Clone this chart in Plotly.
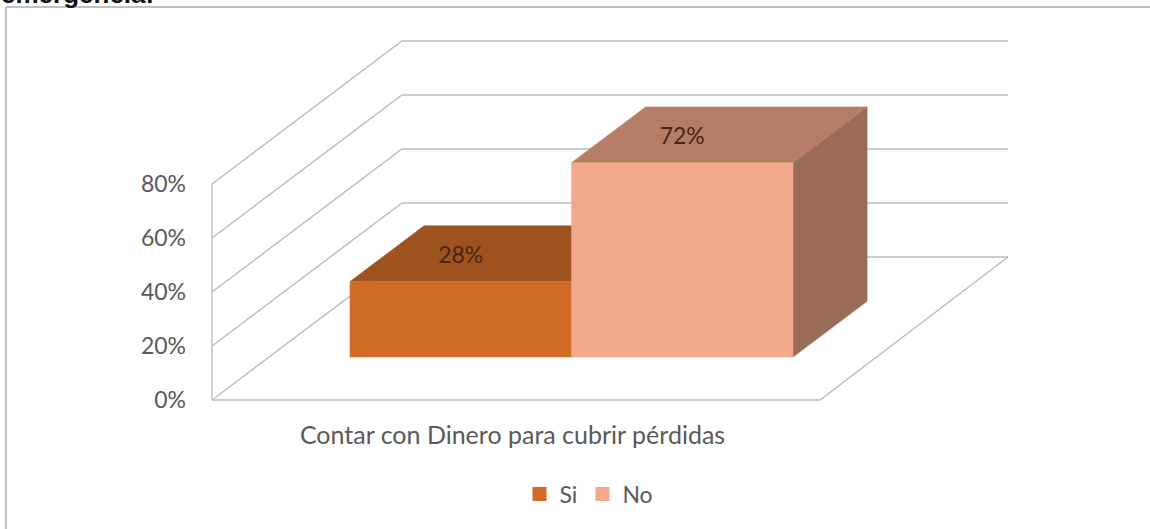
import plotly.graph_objects as go

# --- data ---
categories = ["Contar con Dinero para cubrir pérdidas"]
series_names = ["Si", "No"]
series_values = [28, 72]
data_labels = ["28%", "72%"]
tick_values = [0, 20, 40, 60, 80]
tick_labels = ["0%", "20%", "40%", "60%", "80%"]

front_colors = ["#D06C26", "#F1A88C"]
top_colors = ["#9E521D", "#B57D66"]
side_colors = ["#8C4A1A", "#9A6B56"]

# --- oblique projection geometry (figure is 1150 x 529) ---
W, H = 1150, 529
PX_PER_UNIT = 2.7          # vertical pixels per percentage point
Y0_PX = 400                # pixel row of value 0
FLOOR_LEFT, FLOOR_RIGHT = 212, 820
DEPTH_DX, DEPTH_DY = 190, 143 / PX_PER_UNIT   # full-depth offset
BAR_D0, BAR_D1 = 0.30, 0.69  # bar position along depth
BAR_X0 = 350 - BAR_D0 * DEPTH_DX
BAR_W = 221.5
LABEL_DROP = 3.5 / PX_PER_UNIT


def proj(x, v, d):
    return x + d * DEPTH_DX, v + d * DEPTH_DY


def poly(points, color, name):
    xs, ys = zip(*points)
    return go.Scatter(x=list(xs) + [xs[0]], y=list(ys) + [ys[0]], mode="lines",
                      fill="toself", fillcolor=color, line=dict(color=color, width=0.5),
                      hoverinfo="skip", showlegend=False, name=name)


fig = go.Figure()

# gridlines: left wall + back wall
gx, gy = [], []
for t in tick_values:
    a = proj(FLOOR_LEFT, t, 0)
    b = proj(FLOOR_LEFT, t, 1)
    c = proj(FLOOR_RIGHT - 2, t, 1)
    gx += [a[0], b[0], c[0], None]
    gy += [a[1], b[1], c[1], None]
# floor front + right edge and left vertical
p0 = proj(FLOOR_LEFT, 0, 0)
p1 = proj(FLOOR_RIGHT, 0, 0)
p2 = proj(FLOOR_RIGHT - 2, 0, 1)
gx += [p0[0], p1[0], p2[0], None, p0[0], p0[0]]
gy += [p0[1], p1[1], p2[1], None, p0[1], tick_values[-1]]
fig.add_trace(go.Scatter(x=gx, y=gy, mode="lines", line=dict(color="#B9BDC2", width=1.4),
                         hoverinfo="skip", showlegend=False))

# bars
for i, (name, v) in enumerate(zip(series_names, series_values)):
    x0 = BAR_X0 + i * BAR_W
    x1 = x0 + BAR_W
    fig.add_trace(poly([proj(x1, 0, BAR_D0), proj(x1, 0, BAR_D1),
                        proj(x1, v, BAR_D1), proj(x1, v, BAR_D0)], side_colors[i], name))
    fig.add_trace(poly([proj(x0, v, BAR_D0), proj(x1, v, BAR_D0),
                        proj(x1, v, BAR_D1), proj(x0, v, BAR_D1)], top_colors[i], name))
    fig.add_trace(poly([proj(x0, 0, BAR_D0), proj(x1, 0, BAR_D0),
                        proj(x1, v, BAR_D0), proj(x0, v, BAR_D0)], front_colors[i], name))

# data labels
for i, v in enumerate(series_values):
    px = BAR_X0 + (i + 0.5) * BAR_W + BAR_D0 * DEPTH_DX
    py = proj(0, v, (BAR_D0 + BAR_D1) / 2)[1] - LABEL_DROP
    fig.add_trace(go.Scatter(x=[px], y=[py], mode="text", text=[data_labels[i]],
                             textposition="middle center",
                             textfont=dict(family="Lato", size=23, color="#4A2413"),
                             hoverinfo="skip", showlegend=False))

# legend entries
for i, name in enumerate(series_names):
    fig.add_trace(go.Scatter(x=[None], y=[None], mode="markers", name=name,
                             marker=dict(symbol="square", size=14, color=front_colors[i])))

# chart frame (top and left edges show) and the cropped text line above it
fig.add_shape(type="line", xref="paper", yref="paper",
              x0=6 / W, x1=1, y0=1 - 7 / H, y1=1 - 7 / H,
              line=dict(color="#ABABAB", width=1.5), layer="below")
fig.add_shape(type="line", xref="paper", yref="paper",
              x0=6 / W, x1=6 / W, y0=0, y1=1 - 7 / H,
              line=dict(color="#ABABAB", width=1.5), layer="below")
fig.add_annotation(text="<b>emergencia:</b>", xref="paper", yref="paper", x=-1 / W, y=1 - 11 / H,
                   xanchor="left", yanchor="bottom", showarrow=False,
                   font=dict(family="Liberation Sans", size=26, color="#111111"))

fig.update_layout(
    width=W, height=H, autosize=False,
    margin=dict(l=0, r=0, t=0, b=0),
    paper_bgcolor="#FFFFFF", plot_bgcolor="#FFFFFF",
    font=dict(family="Lato", color="#595959", size=23),
    xaxis=dict(range=[0, W], showgrid=False, zeroline=False, showline=False,
               tickmode="array", tickvals=[512.5], ticktext=categories,
               ticks="", anchor="free", position=1 - 418 / H, side="bottom",
               tickfont=dict(family="Lato", size=25, color="#595959")),
    yaxis=dict(range=[(Y0_PX - H) / PX_PER_UNIT, Y0_PX / PX_PER_UNIT], showgrid=False,
               zeroline=False, showline=False, tickmode="array",
               tickvals=tick_values, ticktext=tick_labels, ticks="",
               anchor="free", position=186 / W, side="left",
               tickfont=dict(family="Lato", size=23, color="#595959")),
    legend=dict(orientation="h", x=589 / W, xanchor="center", y=1 - 494 / H, yanchor="middle",
                font=dict(family="Lato", size=23, color="#595959"), bgcolor="rgba(0,0,0,0)",
                itemsizing="trace", itemwidth=30, traceorder="normal"),
)

fig.write_html("out.html", config={"displayModeBar": False},
               post_script="document.body.style.margin='0';")
